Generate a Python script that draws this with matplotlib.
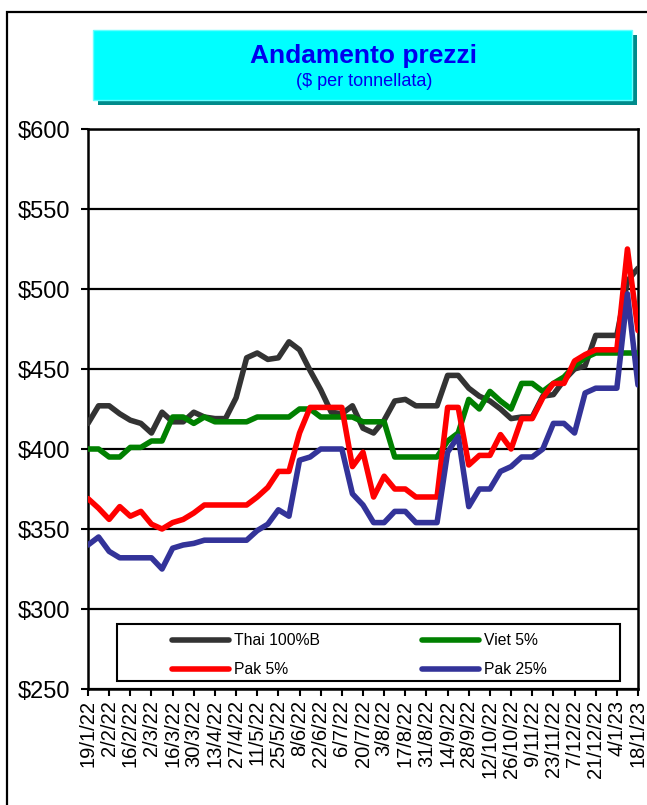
import numpy as np
import matplotlib
matplotlib.use("Agg")
import matplotlib.pyplot as plt
from matplotlib.patches import Rectangle

plt.rcParams['font.family'] = ['Liberation Sans', 'DejaVu Sans']

# etichette asse x (ogni 2 settimane)
tick_labels = ["19/1/22", "2/2/22", "16/2/22", "2/3/22", "16/3/22", "30/3/22", "13/4/22",
               "27/4/22", "11/5/22", "25/5/22", "8/6/22", "22/6/22", "6/7/22", "20/7/22",
               "3/8/22", "17/8/22", "31/8/22", "14/9/22", "28/9/22", "12/10/22", "26/10/22",
               "9/11/22", "23/11/22", "7/12/22", "21/12/22", "4/1/23", "18/1/23"]

# prezzi settimanali ($/t)
thai_100b = [416, 427, 427, 422, 418, 416, 410, 423, 417, 417, 423, 420, 419, 419, 432, 457,
             460, 456, 457, 467, 462, 449, 437, 423, 422, 427, 413, 410, 418, 430, 431, 427,
             427, 427, 446, 446, 438, 433, 430, 425, 419, 420, 420, 433, 434, 443, 450, 452,
             471, 471, 471, 505, 513]
viet_5 = [400, 400, 395, 395, 401, 401, 405, 405, 420, 420, 416, 420, 417, 417, 417, 417,
          420, 420, 420, 420, 425, 425, 420, 420, 420, 420, 417, 417, 417, 395, 395, 395,
          395, 395, 405, 410, 431, 425, 436, 430, 425, 441, 441, 436, 441, 445, 452, 457,
          460, 460, 460, 460, 460]
pak_5 = [369, 363, 356, 364, 358, 361, 353, 350, 354, 356, 360, 365, 365, 365, 365, 365,
         370, 376, 386, 386, 410, 426, 426, 426, 426, 389, 398, 370, 383, 375, 375, 370,
         370, 370, 426, 426, 390, 396, 396, 409, 400, 419, 419, 432, 441, 441, 455, 459,
         462, 462, 462, 525, 474]
pak_25 = [340, 345, 336, 332, 332, 332, 332, 325, 338, 340, 341, 343, 343, 343, 343, 343,
          349, 353, 362, 358, 393, 395, 400, 400, 400, 372, 365, 354, 354, 361, 361, 354,
          354, 354, 398, 408, 364, 375, 375, 386, 389, 395, 395, 400, 416, 416, 410, 435,
          438, 438, 438, 497, 440]

series = [("Thai 100%B", thai_100b, "#333333"),
          ("Viet 5%", viet_5, "#008000"),
          ("Pak 5%", pak_5, "#FF0000"),
          ("Pak 25%", pak_25, "#333399")]

W, H = 647, 805
fig = plt.figure(figsize=(W / 100, H / 100), dpi=100)

# cornice esterna
fig.patches.append(Rectangle((7 / W, -0.05), 1.1, 1 - 12 / H + 0.05, transform=fig.transFigure,
                             fill=False, ec="black", lw=1.6))

# riquadro titolo con ombra
fig.patches.append(Rectangle((98 / W, 1 - 105 / H), 539 / W, 70 / H, transform=fig.transFigure,
                             fc="#008B8B", ec="none"))
fig.patches.append(Rectangle((93 / W, 1 - 100 / H), 539 / W, 70 / H, transform=fig.transFigure,
                             fc="#00FFFF", ec="#66FFFF", lw=1))
fig.text(364 / W, 1 - 56 / H, "Andamento prezzi", ha="center", va="center",
         fontsize=19, fontweight="bold", color="#0000EE")
fig.text(364 / W, 1 - 82 / H, "($ per tonnellata)", ha="center", va="center",
         fontsize=13, color="#0000EE")

ax = fig.add_axes([88 / W, 1 - 689 / H, 550 / W, 560 / H])
x = np.arange(len(thai_100b))
handles = {}
for name, vals, col in series:
    handles[name], = ax.plot(x, vals, color=col, lw=4, label=name, solid_capstyle="round", zorder=3)

ax.set_xlim(0, len(x) - 1)
ax.set_ylim(250, 600)
ax.set_yticks(np.arange(250, 601, 50))
ax.set_yticklabels(["$%d" % v for v in np.arange(250, 601, 50)], fontsize=17)
ax.yaxis.grid(True, color="black", lw=1.6)
ax.set_axisbelow(True)
ax.set_xticks(np.arange(0, len(x), 2))
ax.set_xticklabels(tick_labels, rotation=90, fontsize=14.5)
ax.tick_params(axis="both", direction="out", length=5, width=1.5, colors="black")
ax.tick_params(axis="y", pad=8)
ax.tick_params(axis="x", pad=3)
for s in ax.spines.values():
    s.set_linewidth(1.8)

# legenda (ordine per righe come nel grafico originale)
ax.add_patch(Rectangle(((117 - 88) / 550, (689 - 681) / 560), 503 / 550, 57 / 560,
                       transform=ax.transAxes, fc="white", ec="black", lw=1.5, zorder=4))
order = ["Thai 100%B", "Pak 5%", "Viet 5%", "Pak 25%"]
leg = ax.legend([handles[n] for n in order], order, ncol=2, frameon=False, loc="upper left",
                bbox_to_anchor=((172 - 88) / 550, (689 - 633) / 560),
                borderpad=0, borderaxespad=0, handlelength=3.6, handletextpad=0.35,
                columnspacing=6.5, labelspacing=0.9, fontsize=11.3)
leg.set_zorder(5)

fig.savefig("out.png", dpi=100)
